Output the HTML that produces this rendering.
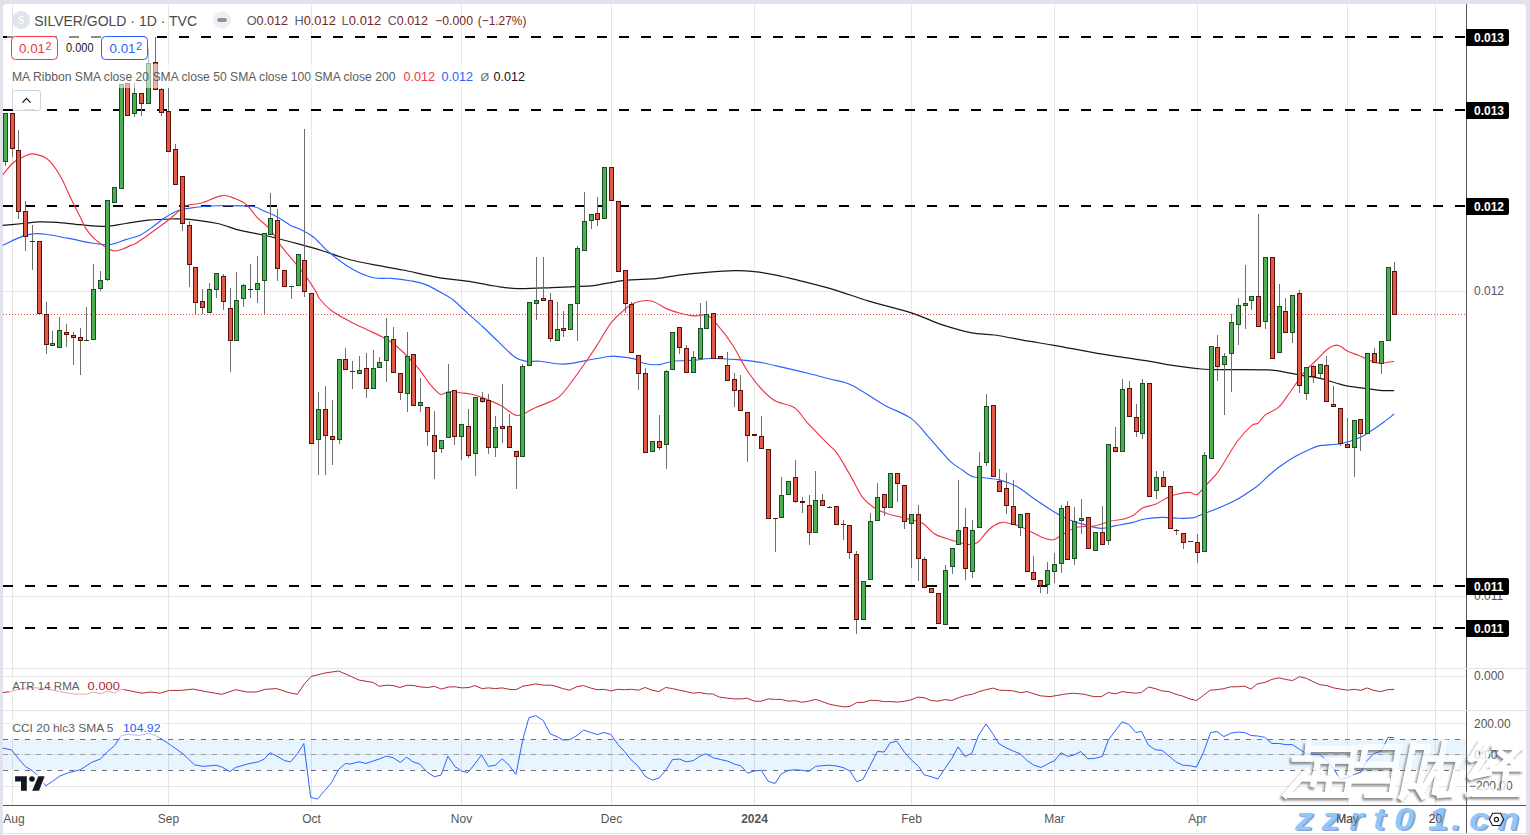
<!DOCTYPE html><html><head><meta charset="utf-8"><style>html,body{margin:0;padding:0;background:#e0e3eb;}svg{display:block}text{font-family:"Liberation Sans",sans-serif;}</style></head><body><svg width="1530" height="835" viewBox="0 0 1530 835"><rect x="0" y="0" width="1530" height="835" fill="#e0e3eb"/><path d="M3,8 Q3,4 7,4 L1522,4 Q1526,4 1526,8 L1526,833 L3,833 Z" fill="#ffffff"/><rect x="3" y="834" width="1523" height="1" fill="#fdfdfe"/><g shape-rendering="crispEdges"><rect x="12" y="4" width="1" height="801" fill="#e6e6e6"/><rect x="168" y="4" width="1" height="801" fill="#e6e6e6"/><rect x="311" y="4" width="1" height="801" fill="#e6e6e6"/><rect x="461" y="4" width="1" height="801" fill="#e6e6e6"/><rect x="611" y="4" width="1" height="801" fill="#e6e6e6"/><rect x="754" y="4" width="1" height="801" fill="#e6e6e6"/><rect x="911" y="4" width="1" height="801" fill="#e6e6e6"/><rect x="1054" y="4" width="1" height="801" fill="#e6e6e6"/><rect x="1197" y="4" width="1" height="801" fill="#e6e6e6"/><rect x="1347" y="4" width="1" height="801" fill="#e6e6e6"/><rect x="1435" y="4" width="1" height="801" fill="#e6e6e6"/><rect x="3" y="291" width="1463" height="1" fill="#e6e6e6"/><rect x="3" y="596" width="1463" height="1" fill="#e6e6e6"/><rect x="3" y="676" width="1463" height="1" fill="#e6e6e6"/><rect x="3" y="723" width="1463" height="1" fill="#e6e6e6"/><rect x="3" y="786" width="1463" height="1" fill="#e6e6e6"/></g><g shape-rendering="crispEdges"><rect x="3" y="668" width="1523" height="1" fill="#e0e3eb"/><rect x="3" y="710" width="1523" height="1" fill="#e0e3eb"/></g><rect x="3" y="739" width="1463" height="31" fill="#2196f3" fill-opacity="0.1" shape-rendering="crispEdges"/><rect x="3" y="754" width="1463" height="1" fill="#d8dde3" shape-rendering="crispEdges"/><line x1="3" y1="739.5" x2="1466" y2="739.5" stroke="#6f727c" stroke-width="1" stroke-dasharray="5,6" shape-rendering="crispEdges"/><line x1="3" y1="754.5" x2="1466" y2="754.5" stroke="#9a9da6" stroke-width="1" stroke-dasharray="5,6" shape-rendering="crispEdges"/><line x1="3" y1="770.5" x2="1466" y2="770.5" stroke="#6f727c" stroke-width="1" stroke-dasharray="5,6" shape-rendering="crispEdges"/><line x1="3" y1="37" x2="1466" y2="37" stroke="#000" stroke-width="2" stroke-dasharray="10,12" shape-rendering="crispEdges"/><line x1="3" y1="110" x2="1466" y2="110" stroke="#000" stroke-width="2" stroke-dasharray="10,12" shape-rendering="crispEdges"/><line x1="3" y1="206" x2="1466" y2="206" stroke="#000" stroke-width="2" stroke-dasharray="10,12" shape-rendering="crispEdges"/><line x1="3" y1="586" x2="1466" y2="586" stroke="#000" stroke-width="2" stroke-dasharray="10,12" shape-rendering="crispEdges"/><line x1="3" y1="628" x2="1466" y2="628" stroke="#000" stroke-width="2" stroke-dasharray="10,12" shape-rendering="crispEdges"/><line x1="3" y1="314.5" x2="1466" y2="314.5" stroke="#e0503c" stroke-width="1" stroke-dasharray="1,2" shape-rendering="crispEdges"/><path d="M2.7,225.4C6.1,225.1 16.9,224.1 22.9,223.5C28.9,222.9 33.2,222.1 38.9,221.9C44.6,221.7 50.3,221.9 57.2,222.4C64.1,222.9 72.1,224.0 80.1,224.7C88.1,225.3 97.6,226.5 105.2,226.3C112.8,226.1 118.5,224.5 125.8,223.5C133.0,222.5 141.1,220.8 148.7,220.1C156.3,219.3 164.7,219.1 171.6,219.0C178.5,218.9 182.3,218.7 189.9,219.4C197.5,220.2 208.9,221.7 217.3,223.5C225.7,225.3 232.6,228.5 240.2,230.4C247.8,232.3 253.6,232.8 263.1,235.0C272.6,237.2 287.4,241.0 297.4,243.7C307.4,246.4 314.8,248.5 322.9,251.0C331.0,253.5 337.4,256.2 345.8,258.5C354.2,260.8 363.7,262.8 373.2,264.7C382.7,266.6 392.3,267.9 403.0,270.0C413.7,272.1 425.9,275.3 437.3,277.3C448.7,279.3 462.1,280.4 471.6,281.8C481.1,283.2 486.9,284.9 494.5,286.0C502.1,287.1 507.8,288.4 517.3,288.7C526.8,289.0 542.2,288.0 551.7,287.6C561.2,287.2 567.4,286.9 574.5,286.6C581.6,286.3 586.0,286.7 594.3,285.6C602.6,284.6 613.8,281.5 624.1,280.3C634.4,279.1 647.0,279.6 656.1,278.7C665.2,277.8 670.6,276.2 679.0,275.1C687.4,274.0 697.2,273.0 706.4,272.3C715.5,271.6 725.9,270.8 733.9,270.7C741.9,270.6 747.3,270.8 754.5,271.6C761.7,272.4 769.7,273.8 777.3,275.3C784.9,276.8 790.7,278.4 800.2,280.8C809.7,283.2 823.1,286.5 834.5,289.9C845.9,293.3 855.9,297.2 868.8,301.1C881.7,305.0 899.9,309.2 912.1,313.1C924.3,317.0 931.9,321.4 941.8,324.7C951.7,328.0 962.8,331.1 971.6,332.8C980.4,334.5 985.0,333.6 994.5,335.0C1004.0,336.4 1018.9,339.5 1028.8,341.2C1038.7,342.9 1042.6,343.3 1054.0,345.3C1065.4,347.3 1085.2,351.2 1097.4,353.3C1109.6,355.4 1118.4,356.6 1127.2,357.9C1136.0,359.2 1143.3,360.2 1150.0,361.3C1156.7,362.4 1158.7,363.3 1167.3,364.6C1175.9,365.9 1192.2,368.2 1201.7,369.0C1211.2,369.8 1213.6,369.5 1224.5,369.6C1235.4,369.8 1257.9,369.6 1267.3,369.9C1276.7,370.2 1275.7,370.4 1281.0,371.3C1286.3,372.2 1292.8,373.8 1299.3,375.0C1305.8,376.2 1313.8,377.1 1319.9,378.4C1326.0,379.7 1331.0,381.7 1335.9,383.0C1340.9,384.3 1344.6,385.5 1349.6,386.4C1354.5,387.3 1360.6,387.6 1365.6,388.3C1370.6,389.0 1374.6,389.9 1379.4,390.3C1384.2,390.7 1391.7,390.5 1394.2,390.5" fill="none" stroke="#181818" stroke-width="1.25" stroke-linejoin="round"/><path d="M2.7,245.3C6.1,243.8 17.6,238.0 22.9,236.1C28.2,234.2 30.5,234.1 34.3,233.8C38.1,233.5 40.1,233.5 45.8,234.3C51.5,235.1 61.0,237.0 68.6,238.4C76.2,239.8 84.6,242.0 91.5,243.0C98.4,244.0 104.1,245.2 109.8,244.6C115.5,244.0 120.8,241.1 125.8,239.6C130.8,238.1 135.4,237.3 139.6,235.4C143.8,233.5 146.8,231.0 151.0,228.1C155.2,225.2 160.1,220.7 164.7,217.8C169.3,214.9 173.4,212.2 178.4,210.5C183.4,208.8 188.0,208.3 194.5,207.5C201.0,206.7 207.8,205.9 217.3,205.7C226.8,205.5 244.1,205.6 251.7,206.4C259.3,207.2 258.9,208.8 263.1,210.5C267.3,212.2 272.2,214.2 276.8,216.7C281.4,219.2 286.7,223.3 290.6,225.4C294.5,227.5 296.1,227.2 300.0,229.2C303.9,231.2 308.8,233.3 313.7,237.2C318.6,241.1 323.2,247.5 329.7,252.8C336.2,258.2 345.4,265.2 352.6,269.3C359.9,273.4 366.7,276.2 373.2,277.7C379.7,279.2 385.4,277.9 391.5,278.4C397.6,278.9 404.1,279.7 409.8,280.7C415.5,281.7 419.7,282.1 425.8,284.6C431.9,287.1 441.8,293.0 446.4,295.6C451.0,298.2 449.9,297.2 453.3,300.0C456.7,302.8 462.1,308.1 467.0,312.6C471.9,317.1 477.7,322.1 483.0,327.0C488.3,331.9 493.7,337.3 499.0,342.3C504.3,347.3 510.4,354.0 515.0,357.2C519.6,360.4 522.3,360.6 526.5,361.3C530.7,362.0 534.1,360.8 540.2,361.3C546.3,361.8 555.5,364.2 563.1,364.1C570.7,364.0 578.4,361.9 586.0,360.6C593.6,359.3 603.5,357.2 608.9,356.5C614.3,355.8 614.1,356.2 618.3,356.6C622.5,357.0 629.9,357.8 634.3,358.9C638.7,360.0 640.4,362.6 644.6,363.5C648.8,364.4 654.7,365.0 659.5,364.6C664.3,364.2 667.1,361.9 673.2,361.2C679.3,360.4 690.0,360.6 696.1,360.1C702.2,359.7 702.9,358.6 709.8,358.5C716.7,358.4 728.9,359.0 737.3,359.6C745.7,360.2 752.5,361.1 760.1,362.4C767.7,363.7 775.4,365.7 783.0,367.4C790.6,369.1 798.3,370.8 805.9,372.7C813.5,374.6 821.2,376.7 828.8,378.8C836.4,380.9 842.6,380.9 851.7,385.2C860.9,389.5 873.8,399.2 883.7,404.7C893.6,410.2 903.5,412.9 911.1,418.4C918.7,423.9 924.6,432.6 929.4,437.9C934.2,443.2 936.3,445.9 940.0,450.0C943.7,454.1 948.1,459.4 951.7,462.6C955.3,465.8 957.9,467.0 961.4,469.4C964.9,471.8 969.1,475.4 972.9,476.8C976.7,478.2 979.7,477.2 984.3,477.8C988.9,478.4 994.9,478.7 1000.3,480.1C1005.7,481.6 1010.8,483.2 1016.8,486.5C1022.8,489.8 1029.8,495.8 1036.0,500.0C1042.2,504.2 1048.8,508.7 1054.3,512.0C1059.8,515.3 1064.0,517.6 1069.2,519.7C1074.4,521.9 1079.9,523.5 1085.2,524.9C1090.5,526.3 1096.1,528.2 1101.0,528.4C1105.9,528.6 1109.4,526.9 1114.7,525.9C1120.0,524.9 1128.0,523.5 1133.0,522.4C1138.0,521.2 1139.5,519.8 1144.5,519.0C1149.5,518.2 1157.1,517.5 1162.8,517.4C1168.5,517.3 1173.8,518.2 1178.8,518.3C1183.8,518.4 1189.2,518.3 1192.5,517.9C1195.8,517.5 1195.7,516.9 1198.6,515.8C1201.5,514.7 1204.4,513.7 1210.1,511.3C1215.8,508.9 1225.4,505.6 1233.0,501.6C1240.6,497.6 1250.1,491.3 1255.8,487.2C1261.5,483.1 1263.5,480.2 1267.3,476.9C1271.1,473.6 1274.1,470.6 1278.7,467.3C1283.3,464.0 1289.8,459.7 1294.7,456.8C1299.7,453.9 1304.2,451.8 1308.4,449.9C1312.6,448.0 1314.6,446.6 1319.9,445.6C1325.2,444.6 1334.0,445.1 1340.5,443.8C1347.0,442.5 1353.5,440.3 1358.8,438.0C1364.1,435.7 1368.3,432.7 1372.5,430.0C1376.7,427.3 1380.3,424.7 1383.9,422.0C1387.5,419.3 1392.5,415.3 1394.2,414.0" fill="none" stroke="#2962ff" stroke-width="1.15" stroke-linejoin="round"/><path d="M2.9,174.5C4.6,172.6 9.6,165.9 12.9,163.0C16.2,160.1 19.9,158.5 23.0,157.0C26.1,155.5 29.0,154.2 31.6,153.9C34.2,153.6 36.4,154.4 38.8,155.1C41.2,155.8 43.6,156.3 46.0,158.0C48.4,159.7 50.6,161.7 53.2,165.2C55.8,168.7 58.7,173.0 61.8,178.8C64.9,184.7 68.7,193.8 71.8,200.3C74.9,206.8 78.1,212.8 80.5,217.6C82.9,222.4 83.8,225.5 86.2,229.1C88.6,232.7 91.9,236.4 94.8,239.2C97.7,241.9 100.3,243.6 103.4,245.6C106.5,247.6 110.4,250.3 113.5,250.9C116.6,251.5 119.4,250.1 122.2,249.2C125.0,248.3 127.7,246.7 130.2,245.6C132.7,244.5 132.3,245.7 137.3,242.5C142.3,239.3 154.0,230.8 160.1,226.3C166.2,221.8 169.7,218.9 173.9,215.5C178.1,212.1 180.7,208.0 185.3,205.9C189.9,203.8 195.2,204.7 201.3,203.0C207.4,201.3 216.2,196.3 221.9,195.6C227.6,194.9 231.4,197.2 235.6,198.8C239.8,200.4 243.5,202.0 247.1,205.2C250.7,208.4 253.6,213.8 257.4,217.8C261.2,221.8 266.0,224.5 270.0,229.3C274.0,234.1 277.6,241.3 281.4,246.4C285.2,251.5 288.6,255.0 292.8,260.1C297.0,265.2 302.8,272.1 306.6,277.3C310.4,282.5 313.4,287.6 315.7,291.4C318.0,295.2 317.9,296.7 320.6,300.0C323.3,303.3 327.1,307.4 332.0,311.0C336.9,314.6 344.6,318.6 350.3,321.7C356.0,324.8 361.0,326.7 366.3,329.3C371.6,331.9 377.4,334.4 382.4,337.1C387.4,339.9 390.4,340.9 396.1,345.8C401.8,350.7 411.0,359.8 416.7,366.3C422.4,372.8 426.4,379.9 430.4,384.6C434.4,389.3 437.6,393.2 440.7,394.3C443.8,395.4 445.5,391.8 448.7,391.5C451.9,391.2 456.3,392.2 460.1,392.7C463.9,393.2 467.8,393.4 471.6,394.3C475.4,395.2 478.1,396.0 483.0,397.9C487.9,399.8 495.6,402.8 501.3,405.7C507.0,408.6 511.6,415.2 517.3,415.5C523.0,415.8 528.7,410.6 535.6,407.5C542.5,404.4 552.0,402.1 558.5,397.2C565.0,392.2 569.5,384.3 574.5,377.8C579.5,371.3 584.5,363.8 588.3,358.3C592.1,352.8 593.6,350.5 597.4,344.6C601.2,338.7 606.5,328.8 611.1,322.9C615.7,317.0 620.7,312.6 624.9,309.2C629.1,305.8 631.9,303.6 636.3,302.2C640.7,300.8 646.5,299.9 651.5,301.0C656.5,302.1 661.5,306.6 666.3,308.6C671.1,310.6 675.5,312.0 680.1,313.2C684.7,314.4 689.2,315.5 693.8,315.9C698.4,316.3 703.3,313.7 707.5,315.5C711.7,317.3 714.8,321.9 719.0,326.9C723.2,331.8 728.1,338.1 732.7,345.2C737.3,352.2 741.8,362.1 746.4,369.2C751.0,376.2 755.3,382.2 760.1,387.5C764.9,392.8 769.3,397.4 775.0,400.8C780.7,404.2 789.0,403.9 794.5,407.7C800.0,411.5 802.5,417.5 808.2,423.7C813.9,429.9 823.9,439.7 828.8,444.7C833.6,449.7 833.6,448.4 837.3,453.7C841.0,459.0 846.8,469.4 851.0,476.6C855.2,483.9 858.6,492.1 862.4,497.2C866.2,502.3 869.7,504.8 873.9,507.5C878.1,510.2 883.0,512.1 887.6,513.7C892.2,515.3 897.1,516.2 901.3,517.3C905.5,518.4 909.2,519.1 912.8,520.1C916.4,521.1 919.4,521.2 923.0,523.5C926.6,525.8 930.6,531.3 934.4,533.8C938.2,536.3 942.0,537.0 945.8,538.3C949.6,539.6 953.5,540.8 957.3,541.8C961.1,542.8 965.3,544.4 968.7,544.5C972.1,544.6 974.5,544.8 977.9,542.2C981.3,539.7 985.5,532.5 989.3,529.2C993.1,525.9 997.0,523.6 1000.5,522.6C1004.0,521.6 1006.7,522.9 1010.0,523.5C1013.3,524.1 1016.9,525.2 1020.3,526.5C1023.7,527.8 1026.9,529.7 1030.5,531.5C1034.1,533.3 1038.5,535.8 1041.9,537.2C1045.3,538.6 1048.8,539.6 1051.1,539.9C1053.4,540.2 1053.3,540.1 1055.6,539.0C1057.8,537.9 1061.0,535.5 1064.6,533.5C1068.2,531.5 1072.0,528.5 1077.0,527.3C1082.0,526.0 1088.8,527.0 1094.3,526.0C1099.8,525.0 1105.2,522.5 1110.1,521.3C1115.0,520.1 1120.1,520.0 1123.9,519.0C1127.7,518.0 1129.8,517.5 1133.0,515.6C1136.2,513.7 1139.2,509.7 1143.0,507.8C1146.8,505.9 1151.5,505.9 1155.5,504.2C1159.5,502.5 1163.5,499.5 1166.9,497.9C1170.3,496.3 1172.2,495.4 1176.0,494.5C1179.8,493.6 1186.0,492.4 1189.5,492.4C1193.0,492.4 1194.2,495.8 1196.9,494.6C1199.6,493.4 1202.4,489.0 1205.8,485.4C1209.2,481.8 1213.8,477.3 1217.3,472.8C1220.8,468.3 1223.1,463.9 1226.5,458.5C1229.9,453.1 1233.7,446.0 1237.9,440.5C1242.1,435.0 1248.2,428.5 1251.6,425.6C1255.0,422.7 1255.9,424.9 1258.1,423.2C1260.3,421.4 1261.6,417.8 1265.0,415.1C1268.4,412.4 1274.5,411.0 1278.7,407.1C1283.0,403.2 1286.3,397.2 1290.5,391.5C1294.7,385.8 1299.4,378.1 1303.9,372.7C1308.4,367.3 1313.8,362.8 1317.6,359.0C1321.4,355.2 1324.0,352.0 1326.7,349.8C1329.4,347.6 1331.5,346.4 1333.6,345.7C1335.7,345.0 1337.0,344.8 1339.3,345.7C1341.6,346.6 1344.0,349.4 1347.3,351.0C1350.5,352.6 1355.4,354.1 1358.8,355.5C1362.2,356.9 1365.2,358.2 1367.9,359.4C1370.6,360.5 1372.5,361.8 1374.8,362.4C1377.1,363.0 1378.5,363.3 1381.7,363.1C1384.9,362.9 1392.1,361.6 1394.2,361.3" fill="none" stroke="#f23645" stroke-width="1.15" stroke-linejoin="round"/><g shape-rendering="crispEdges"><rect x="5" y="162" width="1" height="4" fill="#6e6e6e"/><rect x="3" y="113" width="5" height="49" fill="#1b4d24"/><rect x="4" y="114" width="3" height="47" fill="#4caf50"/><rect x="12" y="149" width="1" height="8" fill="#6e6e6e"/><rect x="10" y="113" width="5" height="36" fill="#5b100b"/><rect x="11" y="114" width="3" height="34" fill="#e05a45"/><rect x="18" y="130" width="1" height="20" fill="#6e6e6e"/><rect x="18" y="212" width="1" height="7" fill="#6e6e6e"/><rect x="16" y="150" width="5" height="62" fill="#5b100b"/><rect x="17" y="151" width="3" height="60" fill="#e05a45"/><rect x="25" y="201" width="1" height="10" fill="#6e6e6e"/><rect x="25" y="237" width="1" height="14" fill="#6e6e6e"/><rect x="23" y="211" width="5" height="26" fill="#5b100b"/><rect x="24" y="212" width="3" height="24" fill="#e05a45"/><rect x="32" y="225" width="1" height="16" fill="#6e6e6e"/><rect x="32" y="242" width="1" height="28" fill="#6e6e6e"/><rect x="30" y="241" width="5" height="1" fill="#5b100b"/><rect x="37" y="241" width="5" height="73" fill="#5b100b"/><rect x="38" y="242" width="3" height="71" fill="#e05a45"/><rect x="46" y="302" width="1" height="12" fill="#6e6e6e"/><rect x="46" y="345" width="1" height="9" fill="#6e6e6e"/><rect x="44" y="314" width="5" height="31" fill="#5b100b"/><rect x="45" y="315" width="3" height="29" fill="#e05a45"/><rect x="52" y="331" width="1" height="12" fill="#6e6e6e"/><rect x="50" y="343" width="5" height="3" fill="#1b4d24"/><rect x="51" y="344" width="3" height="1" fill="#4caf50"/><rect x="59" y="317" width="1" height="13" fill="#6e6e6e"/><rect x="57" y="330" width="5" height="18" fill="#1b4d24"/><rect x="58" y="331" width="3" height="16" fill="#4caf50"/><rect x="66" y="324" width="1" height="8" fill="#6e6e6e"/><rect x="66" y="335" width="1" height="12" fill="#6e6e6e"/><rect x="64" y="332" width="5" height="3" fill="#5b100b"/><rect x="65" y="333" width="3" height="1" fill="#e05a45"/><rect x="73" y="332" width="1" height="3" fill="#6e6e6e"/><rect x="73" y="338" width="1" height="27" fill="#6e6e6e"/><rect x="71" y="335" width="5" height="3" fill="#5b100b"/><rect x="72" y="336" width="3" height="1" fill="#e05a45"/><rect x="80" y="328" width="1" height="9" fill="#6e6e6e"/><rect x="80" y="341" width="1" height="34" fill="#6e6e6e"/><rect x="78" y="337" width="5" height="4" fill="#5b100b"/><rect x="79" y="338" width="3" height="2" fill="#e05a45"/><rect x="86" y="307" width="1" height="33" fill="#6e6e6e"/><rect x="84" y="340" width="5" height="1" fill="#1b4d24"/><rect x="93" y="264" width="1" height="25" fill="#6e6e6e"/><rect x="91" y="289" width="5" height="51" fill="#1b4d24"/><rect x="92" y="290" width="3" height="49" fill="#4caf50"/><rect x="100" y="271" width="1" height="9" fill="#6e6e6e"/><rect x="100" y="289" width="1" height="2" fill="#6e6e6e"/><rect x="98" y="280" width="5" height="9" fill="#1b4d24"/><rect x="99" y="281" width="3" height="7" fill="#4caf50"/><rect x="107" y="280" width="1" height="1" fill="#6e6e6e"/><rect x="105" y="200" width="5" height="80" fill="#1b4d24"/><rect x="106" y="201" width="3" height="78" fill="#4caf50"/><rect x="112" y="187" width="5" height="16" fill="#1b4d24"/><rect x="113" y="188" width="3" height="14" fill="#4caf50"/><rect x="119" y="84" width="5" height="105" fill="#1b4d24"/><rect x="120" y="85" width="3" height="103" fill="#4caf50"/><rect x="125" y="83" width="5" height="33" fill="#5b100b"/><rect x="126" y="84" width="3" height="31" fill="#e05a45"/><rect x="134" y="83" width="1" height="10" fill="#6e6e6e"/><rect x="134" y="114" width="1" height="3" fill="#6e6e6e"/><rect x="132" y="93" width="5" height="21" fill="#1b4d24"/><rect x="133" y="94" width="3" height="19" fill="#4caf50"/><rect x="141" y="104" width="1" height="12" fill="#6e6e6e"/><rect x="139" y="93" width="5" height="11" fill="#5b100b"/><rect x="140" y="94" width="3" height="9" fill="#e05a45"/><rect x="148" y="49" width="1" height="14" fill="#6e6e6e"/><rect x="146" y="63" width="5" height="41" fill="#1b4d24"/><rect x="147" y="64" width="3" height="39" fill="#4caf50"/><rect x="155" y="37" width="1" height="25" fill="#6e6e6e"/><rect x="153" y="62" width="5" height="28" fill="#5b100b"/><rect x="154" y="63" width="3" height="26" fill="#e05a45"/><rect x="161" y="88" width="1" height="1" fill="#6e6e6e"/><rect x="161" y="113" width="1" height="3" fill="#6e6e6e"/><rect x="159" y="89" width="5" height="24" fill="#5b100b"/><rect x="160" y="90" width="3" height="22" fill="#e05a45"/><rect x="168" y="88" width="1" height="23" fill="#6e6e6e"/><rect x="166" y="111" width="5" height="41" fill="#5b100b"/><rect x="167" y="112" width="3" height="39" fill="#e05a45"/><rect x="175" y="144" width="1" height="5" fill="#6e6e6e"/><rect x="173" y="149" width="5" height="36" fill="#5b100b"/><rect x="174" y="150" width="3" height="34" fill="#e05a45"/><rect x="182" y="224" width="1" height="7" fill="#6e6e6e"/><rect x="180" y="176" width="5" height="48" fill="#5b100b"/><rect x="181" y="177" width="3" height="46" fill="#e05a45"/><rect x="189" y="221" width="1" height="4" fill="#6e6e6e"/><rect x="189" y="265" width="1" height="22" fill="#6e6e6e"/><rect x="187" y="225" width="5" height="40" fill="#5b100b"/><rect x="188" y="226" width="3" height="38" fill="#e05a45"/><rect x="195" y="303" width="1" height="11" fill="#6e6e6e"/><rect x="193" y="267" width="5" height="36" fill="#5b100b"/><rect x="194" y="268" width="3" height="34" fill="#e05a45"/><rect x="202" y="289" width="1" height="12" fill="#6e6e6e"/><rect x="202" y="308" width="1" height="6" fill="#6e6e6e"/><rect x="200" y="301" width="5" height="7" fill="#5b100b"/><rect x="201" y="302" width="3" height="5" fill="#e05a45"/><rect x="209" y="283" width="1" height="6" fill="#6e6e6e"/><rect x="207" y="289" width="5" height="24" fill="#1b4d24"/><rect x="208" y="290" width="3" height="22" fill="#4caf50"/><rect x="216" y="290" width="1" height="8" fill="#6e6e6e"/><rect x="214" y="273" width="5" height="17" fill="#1b4d24"/><rect x="215" y="274" width="3" height="15" fill="#4caf50"/><rect x="223" y="274" width="1" height="2" fill="#6e6e6e"/><rect x="223" y="302" width="1" height="8" fill="#6e6e6e"/><rect x="221" y="276" width="5" height="26" fill="#5b100b"/><rect x="222" y="277" width="3" height="24" fill="#e05a45"/><rect x="230" y="288" width="1" height="20" fill="#6e6e6e"/><rect x="230" y="341" width="1" height="31" fill="#6e6e6e"/><rect x="228" y="308" width="5" height="33" fill="#5b100b"/><rect x="229" y="309" width="3" height="31" fill="#e05a45"/><rect x="236" y="272" width="1" height="28" fill="#6e6e6e"/><rect x="234" y="300" width="5" height="41" fill="#1b4d24"/><rect x="235" y="301" width="3" height="39" fill="#4caf50"/><rect x="243" y="284" width="1" height="1" fill="#6e6e6e"/><rect x="243" y="299" width="1" height="8" fill="#6e6e6e"/><rect x="241" y="285" width="5" height="14" fill="#1b4d24"/><rect x="242" y="286" width="3" height="12" fill="#4caf50"/><rect x="250" y="264" width="1" height="25" fill="#6e6e6e"/><rect x="250" y="290" width="1" height="8" fill="#6e6e6e"/><rect x="248" y="289" width="5" height="1" fill="#5b100b"/><rect x="257" y="256" width="1" height="27" fill="#6e6e6e"/><rect x="257" y="290" width="1" height="13" fill="#6e6e6e"/><rect x="255" y="283" width="5" height="7" fill="#1b4d24"/><rect x="256" y="284" width="3" height="5" fill="#4caf50"/><rect x="264" y="281" width="1" height="33" fill="#6e6e6e"/><rect x="262" y="233" width="5" height="48" fill="#1b4d24"/><rect x="263" y="234" width="3" height="46" fill="#4caf50"/><rect x="270" y="193" width="1" height="25" fill="#6e6e6e"/><rect x="268" y="218" width="5" height="17" fill="#1b4d24"/><rect x="269" y="219" width="3" height="15" fill="#4caf50"/><rect x="277" y="209" width="1" height="11" fill="#6e6e6e"/><rect x="277" y="269" width="1" height="12" fill="#6e6e6e"/><rect x="275" y="220" width="5" height="49" fill="#5b100b"/><rect x="276" y="221" width="3" height="47" fill="#e05a45"/><rect x="282" y="270" width="5" height="17" fill="#5b100b"/><rect x="283" y="271" width="3" height="15" fill="#e05a45"/><rect x="291" y="287" width="1" height="12" fill="#6e6e6e"/><rect x="289" y="286" width="5" height="1" fill="#1b4d24"/><rect x="296" y="254" width="5" height="32" fill="#1b4d24"/><rect x="297" y="255" width="3" height="30" fill="#4caf50"/><rect x="304" y="129" width="1" height="131" fill="#6e6e6e"/><rect x="304" y="292" width="1" height="5" fill="#6e6e6e"/><rect x="302" y="260" width="5" height="32" fill="#5b100b"/><rect x="303" y="261" width="3" height="30" fill="#e05a45"/><rect x="309" y="293" width="5" height="151" fill="#5b100b"/><rect x="310" y="294" width="3" height="149" fill="#e05a45"/><rect x="318" y="392" width="1" height="17" fill="#6e6e6e"/><rect x="318" y="440" width="1" height="35" fill="#6e6e6e"/><rect x="316" y="409" width="5" height="31" fill="#1b4d24"/><rect x="317" y="410" width="3" height="29" fill="#4caf50"/><rect x="325" y="386" width="1" height="23" fill="#6e6e6e"/><rect x="325" y="436" width="1" height="39" fill="#6e6e6e"/><rect x="323" y="409" width="5" height="27" fill="#5b100b"/><rect x="324" y="410" width="3" height="25" fill="#e05a45"/><rect x="332" y="400" width="1" height="36" fill="#6e6e6e"/><rect x="332" y="440" width="1" height="25" fill="#6e6e6e"/><rect x="330" y="436" width="5" height="4" fill="#5b100b"/><rect x="331" y="437" width="3" height="2" fill="#e05a45"/><rect x="339" y="440" width="1" height="4" fill="#6e6e6e"/><rect x="337" y="359" width="5" height="81" fill="#1b4d24"/><rect x="338" y="360" width="3" height="79" fill="#4caf50"/><rect x="345" y="348" width="1" height="11" fill="#6e6e6e"/><rect x="343" y="359" width="5" height="11" fill="#5b100b"/><rect x="344" y="360" width="3" height="9" fill="#e05a45"/><rect x="352" y="361" width="1" height="10" fill="#6e6e6e"/><rect x="352" y="372" width="1" height="17" fill="#6e6e6e"/><rect x="350" y="371" width="5" height="1" fill="#5b100b"/><rect x="359" y="356" width="1" height="14" fill="#6e6e6e"/><rect x="357" y="370" width="5" height="4" fill="#1b4d24"/><rect x="358" y="371" width="3" height="2" fill="#4caf50"/><rect x="366" y="353" width="1" height="15" fill="#6e6e6e"/><rect x="366" y="389" width="1" height="9" fill="#6e6e6e"/><rect x="364" y="368" width="5" height="21" fill="#5b100b"/><rect x="365" y="369" width="3" height="19" fill="#e05a45"/><rect x="373" y="350" width="1" height="18" fill="#6e6e6e"/><rect x="371" y="368" width="5" height="21" fill="#1b4d24"/><rect x="372" y="369" width="3" height="19" fill="#4caf50"/><rect x="379" y="357" width="1" height="5" fill="#6e6e6e"/><rect x="377" y="362" width="5" height="6" fill="#1b4d24"/><rect x="378" y="363" width="3" height="4" fill="#4caf50"/><rect x="386" y="318" width="1" height="18" fill="#6e6e6e"/><rect x="386" y="361" width="1" height="21" fill="#6e6e6e"/><rect x="384" y="336" width="5" height="25" fill="#1b4d24"/><rect x="385" y="337" width="3" height="23" fill="#4caf50"/><rect x="393" y="327" width="1" height="12" fill="#6e6e6e"/><rect x="391" y="339" width="5" height="34" fill="#5b100b"/><rect x="392" y="340" width="3" height="32" fill="#e05a45"/><rect x="400" y="393" width="1" height="7" fill="#6e6e6e"/><rect x="398" y="373" width="5" height="20" fill="#5b100b"/><rect x="399" y="374" width="3" height="18" fill="#e05a45"/><rect x="407" y="332" width="1" height="24" fill="#6e6e6e"/><rect x="407" y="394" width="1" height="18" fill="#6e6e6e"/><rect x="405" y="356" width="5" height="38" fill="#1b4d24"/><rect x="406" y="357" width="3" height="36" fill="#4caf50"/><rect x="411" y="354" width="5" height="52" fill="#5b100b"/><rect x="412" y="355" width="3" height="50" fill="#e05a45"/><rect x="420" y="378" width="1" height="24" fill="#6e6e6e"/><rect x="420" y="406" width="1" height="6" fill="#6e6e6e"/><rect x="418" y="402" width="5" height="4" fill="#1b4d24"/><rect x="419" y="403" width="3" height="2" fill="#4caf50"/><rect x="427" y="432" width="1" height="14" fill="#6e6e6e"/><rect x="425" y="407" width="5" height="25" fill="#5b100b"/><rect x="426" y="408" width="3" height="23" fill="#e05a45"/><rect x="434" y="411" width="1" height="24" fill="#6e6e6e"/><rect x="434" y="452" width="1" height="27" fill="#6e6e6e"/><rect x="432" y="435" width="5" height="17" fill="#5b100b"/><rect x="433" y="436" width="3" height="15" fill="#e05a45"/><rect x="441" y="449" width="1" height="4" fill="#6e6e6e"/><rect x="439" y="440" width="5" height="9" fill="#1b4d24"/><rect x="440" y="441" width="3" height="7" fill="#4caf50"/><rect x="448" y="364" width="1" height="28" fill="#6e6e6e"/><rect x="446" y="392" width="5" height="46" fill="#1b4d24"/><rect x="447" y="393" width="3" height="44" fill="#4caf50"/><rect x="454" y="437" width="1" height="8" fill="#6e6e6e"/><rect x="452" y="390" width="5" height="47" fill="#5b100b"/><rect x="453" y="391" width="3" height="45" fill="#e05a45"/><rect x="461" y="437" width="1" height="23" fill="#6e6e6e"/><rect x="459" y="424" width="5" height="13" fill="#1b4d24"/><rect x="460" y="425" width="3" height="11" fill="#4caf50"/><rect x="468" y="409" width="1" height="17" fill="#6e6e6e"/><rect x="468" y="456" width="1" height="2" fill="#6e6e6e"/><rect x="466" y="426" width="5" height="30" fill="#5b100b"/><rect x="467" y="427" width="3" height="28" fill="#e05a45"/><rect x="475" y="454" width="1" height="22" fill="#6e6e6e"/><rect x="473" y="397" width="5" height="57" fill="#1b4d24"/><rect x="474" y="398" width="3" height="55" fill="#4caf50"/><rect x="482" y="392" width="1" height="6" fill="#6e6e6e"/><rect x="482" y="402" width="1" height="1" fill="#6e6e6e"/><rect x="480" y="398" width="5" height="4" fill="#5b100b"/><rect x="481" y="399" width="3" height="2" fill="#e05a45"/><rect x="488" y="394" width="1" height="6" fill="#6e6e6e"/><rect x="488" y="448" width="1" height="6" fill="#6e6e6e"/><rect x="486" y="400" width="5" height="48" fill="#5b100b"/><rect x="487" y="401" width="3" height="46" fill="#e05a45"/><rect x="495" y="416" width="1" height="11" fill="#6e6e6e"/><rect x="495" y="448" width="1" height="9" fill="#6e6e6e"/><rect x="493" y="427" width="5" height="21" fill="#1b4d24"/><rect x="494" y="428" width="3" height="19" fill="#4caf50"/><rect x="502" y="384" width="1" height="42" fill="#6e6e6e"/><rect x="502" y="429" width="1" height="14" fill="#6e6e6e"/><rect x="500" y="426" width="5" height="3" fill="#5b100b"/><rect x="501" y="427" width="3" height="1" fill="#e05a45"/><rect x="509" y="414" width="1" height="12" fill="#6e6e6e"/><rect x="507" y="426" width="5" height="22" fill="#5b100b"/><rect x="508" y="427" width="3" height="20" fill="#e05a45"/><rect x="516" y="457" width="1" height="32" fill="#6e6e6e"/><rect x="514" y="451" width="5" height="6" fill="#5b100b"/><rect x="515" y="452" width="3" height="4" fill="#e05a45"/><rect x="522" y="364" width="1" height="2" fill="#6e6e6e"/><rect x="520" y="366" width="5" height="91" fill="#1b4d24"/><rect x="521" y="367" width="3" height="89" fill="#4caf50"/><rect x="527" y="302" width="5" height="64" fill="#1b4d24"/><rect x="528" y="303" width="3" height="62" fill="#4caf50"/><rect x="536" y="257" width="1" height="43" fill="#6e6e6e"/><rect x="536" y="304" width="1" height="16" fill="#6e6e6e"/><rect x="534" y="300" width="5" height="4" fill="#1b4d24"/><rect x="535" y="301" width="3" height="2" fill="#4caf50"/><rect x="543" y="257" width="1" height="41" fill="#6e6e6e"/><rect x="541" y="298" width="5" height="3" fill="#5b100b"/><rect x="542" y="299" width="3" height="1" fill="#e05a45"/><rect x="550" y="293" width="1" height="7" fill="#6e6e6e"/><rect x="550" y="339" width="1" height="3" fill="#6e6e6e"/><rect x="548" y="300" width="5" height="39" fill="#5b100b"/><rect x="549" y="301" width="3" height="37" fill="#e05a45"/><rect x="557" y="302" width="1" height="27" fill="#6e6e6e"/><rect x="555" y="329" width="5" height="12" fill="#1b4d24"/><rect x="556" y="330" width="3" height="10" fill="#4caf50"/><rect x="563" y="311" width="1" height="17" fill="#6e6e6e"/><rect x="563" y="331" width="1" height="6" fill="#6e6e6e"/><rect x="561" y="328" width="5" height="3" fill="#5b100b"/><rect x="562" y="329" width="3" height="1" fill="#e05a45"/><rect x="568" y="304" width="5" height="26" fill="#1b4d24"/><rect x="569" y="305" width="3" height="24" fill="#4caf50"/><rect x="577" y="246" width="1" height="2" fill="#6e6e6e"/><rect x="577" y="304" width="1" height="37" fill="#6e6e6e"/><rect x="575" y="248" width="5" height="56" fill="#1b4d24"/><rect x="576" y="249" width="3" height="54" fill="#4caf50"/><rect x="584" y="192" width="1" height="29" fill="#6e6e6e"/><rect x="582" y="221" width="5" height="30" fill="#1b4d24"/><rect x="583" y="222" width="3" height="28" fill="#4caf50"/><rect x="591" y="221" width="1" height="8" fill="#6e6e6e"/><rect x="589" y="214" width="5" height="7" fill="#1b4d24"/><rect x="590" y="215" width="3" height="5" fill="#4caf50"/><rect x="597" y="197" width="1" height="16" fill="#6e6e6e"/><rect x="597" y="220" width="1" height="6" fill="#6e6e6e"/><rect x="595" y="213" width="5" height="7" fill="#5b100b"/><rect x="596" y="214" width="3" height="5" fill="#e05a45"/><rect x="602" y="167" width="5" height="52" fill="#1b4d24"/><rect x="603" y="168" width="3" height="50" fill="#4caf50"/><rect x="609" y="167" width="5" height="34" fill="#5b100b"/><rect x="610" y="168" width="3" height="32" fill="#e05a45"/><rect x="616" y="201" width="5" height="71" fill="#5b100b"/><rect x="617" y="202" width="3" height="69" fill="#e05a45"/><rect x="625" y="304" width="1" height="9" fill="#6e6e6e"/><rect x="623" y="270" width="5" height="34" fill="#5b100b"/><rect x="624" y="271" width="3" height="32" fill="#e05a45"/><rect x="631" y="302" width="1" height="2" fill="#6e6e6e"/><rect x="629" y="304" width="5" height="49" fill="#5b100b"/><rect x="630" y="305" width="3" height="47" fill="#e05a45"/><rect x="638" y="374" width="1" height="16" fill="#6e6e6e"/><rect x="636" y="355" width="5" height="19" fill="#5b100b"/><rect x="637" y="356" width="3" height="17" fill="#e05a45"/><rect x="645" y="368" width="1" height="5" fill="#6e6e6e"/><rect x="643" y="373" width="5" height="80" fill="#5b100b"/><rect x="644" y="374" width="3" height="78" fill="#e05a45"/><rect x="650" y="441" width="5" height="11" fill="#1b4d24"/><rect x="651" y="442" width="3" height="9" fill="#4caf50"/><rect x="659" y="415" width="1" height="26" fill="#6e6e6e"/><rect x="659" y="448" width="1" height="2" fill="#6e6e6e"/><rect x="657" y="441" width="5" height="7" fill="#5b100b"/><rect x="658" y="442" width="3" height="5" fill="#e05a45"/><rect x="666" y="370" width="1" height="1" fill="#6e6e6e"/><rect x="666" y="445" width="1" height="24" fill="#6e6e6e"/><rect x="664" y="371" width="5" height="74" fill="#1b4d24"/><rect x="665" y="372" width="3" height="72" fill="#4caf50"/><rect x="670" y="332" width="5" height="38" fill="#1b4d24"/><rect x="671" y="333" width="3" height="36" fill="#4caf50"/><rect x="679" y="348" width="1" height="6" fill="#6e6e6e"/><rect x="677" y="327" width="5" height="21" fill="#5b100b"/><rect x="678" y="328" width="3" height="19" fill="#e05a45"/><rect x="686" y="345" width="1" height="3" fill="#6e6e6e"/><rect x="684" y="348" width="5" height="25" fill="#5b100b"/><rect x="685" y="349" width="3" height="23" fill="#e05a45"/><rect x="693" y="351" width="1" height="6" fill="#6e6e6e"/><rect x="691" y="357" width="5" height="16" fill="#1b4d24"/><rect x="692" y="358" width="3" height="14" fill="#4caf50"/><rect x="700" y="303" width="1" height="25" fill="#6e6e6e"/><rect x="698" y="328" width="5" height="31" fill="#1b4d24"/><rect x="699" y="329" width="3" height="29" fill="#4caf50"/><rect x="706" y="301" width="1" height="13" fill="#6e6e6e"/><rect x="704" y="314" width="5" height="15" fill="#1b4d24"/><rect x="705" y="315" width="3" height="13" fill="#4caf50"/><rect x="711" y="313" width="5" height="46" fill="#5b100b"/><rect x="712" y="314" width="3" height="44" fill="#e05a45"/><rect x="718" y="356" width="5" height="3" fill="#5b100b"/><rect x="719" y="357" width="3" height="1" fill="#e05a45"/><rect x="727" y="352" width="1" height="13" fill="#6e6e6e"/><rect x="725" y="365" width="5" height="16" fill="#5b100b"/><rect x="726" y="366" width="3" height="14" fill="#e05a45"/><rect x="734" y="373" width="1" height="6" fill="#6e6e6e"/><rect x="734" y="391" width="1" height="16" fill="#6e6e6e"/><rect x="732" y="379" width="5" height="12" fill="#5b100b"/><rect x="733" y="380" width="3" height="10" fill="#e05a45"/><rect x="740" y="375" width="1" height="15" fill="#6e6e6e"/><rect x="738" y="390" width="5" height="21" fill="#5b100b"/><rect x="739" y="391" width="3" height="19" fill="#e05a45"/><rect x="747" y="436" width="1" height="26" fill="#6e6e6e"/><rect x="745" y="412" width="5" height="24" fill="#5b100b"/><rect x="746" y="413" width="3" height="22" fill="#e05a45"/><rect x="752" y="434" width="5" height="2" fill="#5b100b"/><rect x="761" y="416" width="1" height="20" fill="#6e6e6e"/><rect x="759" y="436" width="5" height="13" fill="#5b100b"/><rect x="760" y="437" width="3" height="11" fill="#e05a45"/><rect x="766" y="449" width="5" height="70" fill="#5b100b"/><rect x="767" y="450" width="3" height="68" fill="#e05a45"/><rect x="775" y="519" width="1" height="33" fill="#6e6e6e"/><rect x="773" y="518" width="5" height="1" fill="#5b100b"/><rect x="781" y="477" width="1" height="18" fill="#6e6e6e"/><rect x="779" y="495" width="5" height="23" fill="#1b4d24"/><rect x="780" y="496" width="3" height="21" fill="#4caf50"/><rect x="786" y="481" width="5" height="14" fill="#1b4d24"/><rect x="787" y="482" width="3" height="12" fill="#4caf50"/><rect x="795" y="460" width="1" height="17" fill="#6e6e6e"/><rect x="795" y="502" width="1" height="1" fill="#6e6e6e"/><rect x="793" y="477" width="5" height="25" fill="#5b100b"/><rect x="794" y="478" width="3" height="23" fill="#e05a45"/><rect x="802" y="497" width="1" height="4" fill="#6e6e6e"/><rect x="802" y="503" width="1" height="10" fill="#6e6e6e"/><rect x="800" y="501" width="5" height="2" fill="#5b100b"/><rect x="809" y="495" width="1" height="10" fill="#6e6e6e"/><rect x="809" y="533" width="1" height="12" fill="#6e6e6e"/><rect x="807" y="505" width="5" height="28" fill="#5b100b"/><rect x="808" y="506" width="3" height="26" fill="#e05a45"/><rect x="815" y="471" width="1" height="29" fill="#6e6e6e"/><rect x="813" y="500" width="5" height="33" fill="#1b4d24"/><rect x="814" y="501" width="3" height="31" fill="#4caf50"/><rect x="822" y="494" width="1" height="6" fill="#6e6e6e"/><rect x="820" y="500" width="5" height="6" fill="#5b100b"/><rect x="821" y="501" width="3" height="4" fill="#e05a45"/><rect x="829" y="506" width="1" height="1" fill="#6e6e6e"/><rect x="827" y="507" width="5" height="1" fill="#1b4d24"/><rect x="834" y="506" width="5" height="19" fill="#5b100b"/><rect x="835" y="507" width="3" height="17" fill="#e05a45"/><rect x="843" y="520" width="1" height="4" fill="#6e6e6e"/><rect x="843" y="525" width="1" height="15" fill="#6e6e6e"/><rect x="841" y="524" width="5" height="1" fill="#5b100b"/><rect x="849" y="553" width="1" height="6" fill="#6e6e6e"/><rect x="847" y="525" width="5" height="28" fill="#5b100b"/><rect x="848" y="526" width="3" height="26" fill="#e05a45"/><rect x="856" y="551" width="1" height="3" fill="#6e6e6e"/><rect x="856" y="620" width="1" height="14" fill="#6e6e6e"/><rect x="854" y="554" width="5" height="66" fill="#5b100b"/><rect x="855" y="555" width="3" height="64" fill="#e05a45"/><rect x="861" y="581" width="5" height="39" fill="#1b4d24"/><rect x="862" y="582" width="3" height="37" fill="#4caf50"/><rect x="870" y="513" width="1" height="8" fill="#6e6e6e"/><rect x="868" y="521" width="5" height="59" fill="#1b4d24"/><rect x="869" y="522" width="3" height="57" fill="#4caf50"/><rect x="877" y="483" width="1" height="14" fill="#6e6e6e"/><rect x="875" y="497" width="5" height="24" fill="#1b4d24"/><rect x="876" y="498" width="3" height="22" fill="#4caf50"/><rect x="884" y="508" width="1" height="8" fill="#6e6e6e"/><rect x="882" y="494" width="5" height="14" fill="#5b100b"/><rect x="883" y="495" width="3" height="12" fill="#e05a45"/><rect x="888" y="473" width="5" height="35" fill="#1b4d24"/><rect x="889" y="474" width="3" height="33" fill="#4caf50"/><rect x="897" y="484" width="1" height="18" fill="#6e6e6e"/><rect x="895" y="473" width="5" height="11" fill="#5b100b"/><rect x="896" y="474" width="3" height="9" fill="#e05a45"/><rect x="904" y="522" width="1" height="7" fill="#6e6e6e"/><rect x="902" y="485" width="5" height="37" fill="#5b100b"/><rect x="903" y="486" width="3" height="35" fill="#e05a45"/><rect x="911" y="524" width="1" height="44" fill="#6e6e6e"/><rect x="909" y="514" width="5" height="10" fill="#1b4d24"/><rect x="910" y="515" width="3" height="8" fill="#4caf50"/><rect x="918" y="505" width="1" height="9" fill="#6e6e6e"/><rect x="918" y="559" width="1" height="22" fill="#6e6e6e"/><rect x="916" y="514" width="5" height="45" fill="#5b100b"/><rect x="917" y="515" width="3" height="43" fill="#e05a45"/><rect x="924" y="557" width="1" height="2" fill="#6e6e6e"/><rect x="922" y="559" width="5" height="29" fill="#5b100b"/><rect x="923" y="560" width="3" height="27" fill="#e05a45"/><rect x="929" y="588" width="5" height="5" fill="#5b100b"/><rect x="930" y="589" width="3" height="3" fill="#e05a45"/><rect x="936" y="593" width="5" height="31" fill="#5b100b"/><rect x="937" y="594" width="3" height="29" fill="#e05a45"/><rect x="945" y="565" width="1" height="5" fill="#6e6e6e"/><rect x="943" y="570" width="5" height="55" fill="#1b4d24"/><rect x="944" y="571" width="3" height="53" fill="#4caf50"/><rect x="952" y="567" width="1" height="7" fill="#6e6e6e"/><rect x="950" y="548" width="5" height="19" fill="#1b4d24"/><rect x="951" y="549" width="3" height="17" fill="#4caf50"/><rect x="958" y="480" width="1" height="50" fill="#6e6e6e"/><rect x="956" y="530" width="5" height="15" fill="#1b4d24"/><rect x="957" y="531" width="3" height="13" fill="#4caf50"/><rect x="965" y="508" width="1" height="19" fill="#6e6e6e"/><rect x="965" y="569" width="1" height="11" fill="#6e6e6e"/><rect x="963" y="527" width="5" height="42" fill="#5b100b"/><rect x="964" y="528" width="3" height="40" fill="#e05a45"/><rect x="972" y="520" width="1" height="10" fill="#6e6e6e"/><rect x="972" y="572" width="1" height="6" fill="#6e6e6e"/><rect x="970" y="530" width="5" height="42" fill="#1b4d24"/><rect x="971" y="531" width="3" height="40" fill="#4caf50"/><rect x="979" y="452" width="1" height="14" fill="#6e6e6e"/><rect x="977" y="466" width="5" height="62" fill="#1b4d24"/><rect x="978" y="467" width="3" height="60" fill="#4caf50"/><rect x="986" y="394" width="1" height="12" fill="#6e6e6e"/><rect x="986" y="463" width="1" height="3" fill="#6e6e6e"/><rect x="984" y="406" width="5" height="57" fill="#1b4d24"/><rect x="985" y="407" width="3" height="55" fill="#4caf50"/><rect x="991" y="405" width="5" height="72" fill="#5b100b"/><rect x="992" y="406" width="3" height="70" fill="#e05a45"/><rect x="999" y="469" width="1" height="12" fill="#6e6e6e"/><rect x="997" y="481" width="5" height="11" fill="#5b100b"/><rect x="998" y="482" width="3" height="9" fill="#e05a45"/><rect x="1006" y="473" width="1" height="15" fill="#6e6e6e"/><rect x="1006" y="506" width="1" height="8" fill="#6e6e6e"/><rect x="1004" y="488" width="5" height="18" fill="#5b100b"/><rect x="1005" y="489" width="3" height="16" fill="#e05a45"/><rect x="1013" y="480" width="1" height="26" fill="#6e6e6e"/><rect x="1011" y="506" width="5" height="19" fill="#5b100b"/><rect x="1012" y="507" width="3" height="17" fill="#e05a45"/><rect x="1020" y="528" width="1" height="8" fill="#6e6e6e"/><rect x="1018" y="514" width="5" height="14" fill="#1b4d24"/><rect x="1019" y="515" width="3" height="12" fill="#4caf50"/><rect x="1025" y="513" width="5" height="59" fill="#5b100b"/><rect x="1026" y="514" width="3" height="57" fill="#e05a45"/><rect x="1033" y="556" width="1" height="16" fill="#6e6e6e"/><rect x="1031" y="572" width="5" height="8" fill="#5b100b"/><rect x="1032" y="573" width="3" height="6" fill="#e05a45"/><rect x="1040" y="586" width="1" height="7" fill="#6e6e6e"/><rect x="1038" y="580" width="5" height="6" fill="#5b100b"/><rect x="1039" y="581" width="3" height="4" fill="#e05a45"/><rect x="1047" y="562" width="1" height="8" fill="#6e6e6e"/><rect x="1047" y="585" width="1" height="9" fill="#6e6e6e"/><rect x="1045" y="570" width="5" height="15" fill="#1b4d24"/><rect x="1046" y="571" width="3" height="13" fill="#4caf50"/><rect x="1054" y="553" width="1" height="11" fill="#6e6e6e"/><rect x="1054" y="572" width="1" height="11" fill="#6e6e6e"/><rect x="1052" y="564" width="5" height="8" fill="#1b4d24"/><rect x="1053" y="565" width="3" height="6" fill="#4caf50"/><rect x="1061" y="505" width="1" height="3" fill="#6e6e6e"/><rect x="1061" y="564" width="1" height="9" fill="#6e6e6e"/><rect x="1059" y="508" width="5" height="56" fill="#1b4d24"/><rect x="1060" y="509" width="3" height="54" fill="#4caf50"/><rect x="1067" y="501" width="1" height="5" fill="#6e6e6e"/><rect x="1065" y="506" width="5" height="54" fill="#5b100b"/><rect x="1066" y="507" width="3" height="52" fill="#e05a45"/><rect x="1074" y="507" width="1" height="14" fill="#6e6e6e"/><rect x="1074" y="559" width="1" height="6" fill="#6e6e6e"/><rect x="1072" y="521" width="5" height="38" fill="#1b4d24"/><rect x="1073" y="522" width="3" height="36" fill="#4caf50"/><rect x="1081" y="499" width="1" height="19" fill="#6e6e6e"/><rect x="1081" y="521" width="1" height="13" fill="#6e6e6e"/><rect x="1079" y="518" width="5" height="3" fill="#1b4d24"/><rect x="1080" y="519" width="3" height="1" fill="#4caf50"/><rect x="1086" y="517" width="5" height="32" fill="#5b100b"/><rect x="1087" y="518" width="3" height="30" fill="#e05a45"/><rect x="1093" y="532" width="5" height="19" fill="#1b4d24"/><rect x="1094" y="533" width="3" height="17" fill="#4caf50"/><rect x="1102" y="506" width="1" height="26" fill="#6e6e6e"/><rect x="1100" y="532" width="5" height="13" fill="#5b100b"/><rect x="1101" y="533" width="3" height="11" fill="#e05a45"/><rect x="1108" y="541" width="1" height="4" fill="#6e6e6e"/><rect x="1106" y="444" width="5" height="97" fill="#1b4d24"/><rect x="1107" y="445" width="3" height="95" fill="#4caf50"/><rect x="1115" y="427" width="1" height="20" fill="#6e6e6e"/><rect x="1113" y="447" width="5" height="5" fill="#5b100b"/><rect x="1114" y="448" width="3" height="3" fill="#e05a45"/><rect x="1122" y="379" width="1" height="10" fill="#6e6e6e"/><rect x="1120" y="389" width="5" height="63" fill="#1b4d24"/><rect x="1121" y="390" width="3" height="61" fill="#4caf50"/><rect x="1129" y="381" width="1" height="7" fill="#6e6e6e"/><rect x="1127" y="388" width="5" height="29" fill="#5b100b"/><rect x="1128" y="389" width="3" height="27" fill="#e05a45"/><rect x="1136" y="404" width="1" height="13" fill="#6e6e6e"/><rect x="1136" y="432" width="1" height="5" fill="#6e6e6e"/><rect x="1134" y="417" width="5" height="15" fill="#5b100b"/><rect x="1135" y="418" width="3" height="13" fill="#e05a45"/><rect x="1142" y="379" width="1" height="4" fill="#6e6e6e"/><rect x="1142" y="434" width="1" height="5" fill="#6e6e6e"/><rect x="1140" y="383" width="5" height="51" fill="#1b4d24"/><rect x="1141" y="384" width="3" height="49" fill="#4caf50"/><rect x="1147" y="383" width="5" height="114" fill="#5b100b"/><rect x="1148" y="384" width="3" height="112" fill="#e05a45"/><rect x="1156" y="471" width="1" height="6" fill="#6e6e6e"/><rect x="1156" y="491" width="1" height="8" fill="#6e6e6e"/><rect x="1154" y="477" width="5" height="14" fill="#1b4d24"/><rect x="1155" y="478" width="3" height="12" fill="#4caf50"/><rect x="1163" y="471" width="1" height="6" fill="#6e6e6e"/><rect x="1161" y="477" width="5" height="10" fill="#5b100b"/><rect x="1162" y="478" width="3" height="8" fill="#e05a45"/><rect x="1168" y="486" width="5" height="43" fill="#5b100b"/><rect x="1169" y="487" width="3" height="41" fill="#e05a45"/><rect x="1176" y="529" width="1" height="1" fill="#6e6e6e"/><rect x="1176" y="531" width="1" height="4" fill="#6e6e6e"/><rect x="1174" y="530" width="5" height="1" fill="#5b100b"/><rect x="1183" y="543" width="1" height="6" fill="#6e6e6e"/><rect x="1181" y="533" width="5" height="10" fill="#5b100b"/><rect x="1182" y="534" width="3" height="8" fill="#e05a45"/><rect x="1188" y="541" width="5" height="1" fill="#1b4d24"/><rect x="1197" y="534" width="1" height="8" fill="#6e6e6e"/><rect x="1197" y="553" width="1" height="10" fill="#6e6e6e"/><rect x="1195" y="542" width="5" height="11" fill="#5b100b"/><rect x="1196" y="543" width="3" height="9" fill="#e05a45"/><rect x="1204" y="452" width="1" height="3" fill="#6e6e6e"/><rect x="1202" y="455" width="5" height="97" fill="#1b4d24"/><rect x="1203" y="456" width="3" height="95" fill="#4caf50"/><rect x="1209" y="346" width="5" height="113" fill="#1b4d24"/><rect x="1210" y="347" width="3" height="111" fill="#4caf50"/><rect x="1217" y="335" width="1" height="12" fill="#6e6e6e"/><rect x="1217" y="367" width="1" height="14" fill="#6e6e6e"/><rect x="1215" y="347" width="5" height="20" fill="#5b100b"/><rect x="1216" y="348" width="3" height="18" fill="#e05a45"/><rect x="1224" y="353" width="1" height="3" fill="#6e6e6e"/><rect x="1224" y="365" width="1" height="50" fill="#6e6e6e"/><rect x="1222" y="356" width="5" height="9" fill="#1b4d24"/><rect x="1223" y="357" width="3" height="7" fill="#4caf50"/><rect x="1231" y="314" width="1" height="8" fill="#6e6e6e"/><rect x="1231" y="354" width="1" height="38" fill="#6e6e6e"/><rect x="1229" y="322" width="5" height="32" fill="#1b4d24"/><rect x="1230" y="323" width="3" height="30" fill="#4caf50"/><rect x="1238" y="298" width="1" height="7" fill="#6e6e6e"/><rect x="1238" y="325" width="1" height="20" fill="#6e6e6e"/><rect x="1236" y="305" width="5" height="20" fill="#1b4d24"/><rect x="1237" y="306" width="3" height="18" fill="#4caf50"/><rect x="1245" y="265" width="1" height="38" fill="#6e6e6e"/><rect x="1245" y="306" width="1" height="23" fill="#6e6e6e"/><rect x="1243" y="303" width="5" height="3" fill="#1b4d24"/><rect x="1244" y="304" width="3" height="1" fill="#4caf50"/><rect x="1251" y="301" width="1" height="9" fill="#6e6e6e"/><rect x="1249" y="296" width="5" height="5" fill="#1b4d24"/><rect x="1250" y="297" width="3" height="3" fill="#4caf50"/><rect x="1258" y="214" width="1" height="82" fill="#6e6e6e"/><rect x="1256" y="296" width="5" height="31" fill="#5b100b"/><rect x="1257" y="297" width="3" height="29" fill="#e05a45"/><rect x="1265" y="322" width="1" height="7" fill="#6e6e6e"/><rect x="1263" y="257" width="5" height="65" fill="#1b4d24"/><rect x="1264" y="258" width="3" height="63" fill="#4caf50"/><rect x="1270" y="257" width="5" height="102" fill="#5b100b"/><rect x="1271" y="258" width="3" height="100" fill="#e05a45"/><rect x="1279" y="284" width="1" height="22" fill="#6e6e6e"/><rect x="1277" y="306" width="5" height="47" fill="#1b4d24"/><rect x="1278" y="307" width="3" height="45" fill="#4caf50"/><rect x="1285" y="298" width="1" height="13" fill="#6e6e6e"/><rect x="1283" y="311" width="5" height="22" fill="#5b100b"/><rect x="1284" y="312" width="3" height="20" fill="#e05a45"/><rect x="1292" y="333" width="1" height="10" fill="#6e6e6e"/><rect x="1290" y="295" width="5" height="38" fill="#1b4d24"/><rect x="1291" y="296" width="3" height="36" fill="#4caf50"/><rect x="1299" y="290" width="1" height="3" fill="#6e6e6e"/><rect x="1299" y="386" width="1" height="7" fill="#6e6e6e"/><rect x="1297" y="293" width="5" height="93" fill="#5b100b"/><rect x="1298" y="294" width="3" height="91" fill="#e05a45"/><rect x="1306" y="394" width="1" height="6" fill="#6e6e6e"/><rect x="1304" y="367" width="5" height="27" fill="#1b4d24"/><rect x="1305" y="368" width="3" height="25" fill="#4caf50"/><rect x="1313" y="365" width="1" height="1" fill="#6e6e6e"/><rect x="1313" y="377" width="1" height="6" fill="#6e6e6e"/><rect x="1311" y="366" width="5" height="11" fill="#5b100b"/><rect x="1312" y="367" width="3" height="9" fill="#e05a45"/><rect x="1320" y="374" width="1" height="4" fill="#6e6e6e"/><rect x="1318" y="364" width="5" height="10" fill="#1b4d24"/><rect x="1319" y="365" width="3" height="8" fill="#4caf50"/><rect x="1326" y="356" width="1" height="9" fill="#6e6e6e"/><rect x="1324" y="365" width="5" height="37" fill="#5b100b"/><rect x="1325" y="366" width="3" height="35" fill="#e05a45"/><rect x="1333" y="386" width="1" height="18" fill="#6e6e6e"/><rect x="1331" y="404" width="5" height="3" fill="#5b100b"/><rect x="1332" y="405" width="3" height="1" fill="#e05a45"/><rect x="1340" y="444" width="1" height="2" fill="#6e6e6e"/><rect x="1338" y="408" width="5" height="36" fill="#5b100b"/><rect x="1339" y="409" width="3" height="34" fill="#e05a45"/><rect x="1347" y="418" width="1" height="26" fill="#6e6e6e"/><rect x="1345" y="444" width="5" height="4" fill="#5b100b"/><rect x="1346" y="445" width="3" height="2" fill="#e05a45"/><rect x="1354" y="448" width="1" height="29" fill="#6e6e6e"/><rect x="1352" y="420" width="5" height="28" fill="#1b4d24"/><rect x="1353" y="421" width="3" height="26" fill="#4caf50"/><rect x="1360" y="434" width="1" height="17" fill="#6e6e6e"/><rect x="1358" y="419" width="5" height="15" fill="#5b100b"/><rect x="1359" y="420" width="3" height="13" fill="#e05a45"/><rect x="1365" y="353" width="5" height="81" fill="#1b4d24"/><rect x="1366" y="354" width="3" height="79" fill="#4caf50"/><rect x="1374" y="348" width="1" height="5" fill="#6e6e6e"/><rect x="1372" y="353" width="5" height="10" fill="#5b100b"/><rect x="1373" y="354" width="3" height="8" fill="#e05a45"/><rect x="1381" y="364" width="1" height="10" fill="#6e6e6e"/><rect x="1379" y="341" width="5" height="23" fill="#1b4d24"/><rect x="1380" y="342" width="3" height="21" fill="#4caf50"/><rect x="1386" y="267" width="5" height="74" fill="#1b4d24"/><rect x="1387" y="268" width="3" height="72" fill="#4caf50"/><rect x="1394" y="262" width="1" height="9" fill="#6e6e6e"/><rect x="1392" y="271" width="5" height="44" fill="#5b100b"/><rect x="1393" y="272" width="3" height="42" fill="#e05a45"/></g><polyline points="2.7,692.5 11.4,691.6 20.6,688.6 32.0,687.5 45.8,688.6 59.5,691.6 73.2,693.9 85.8,694.3 93.8,692.0 100.7,693.9 107.5,690.9 114.4,693.2 121.3,689.1 130.4,690.9 141.8,693.2 151.0,692.0 160.1,693.2 169.3,690.4 180.7,690.4 193.3,689.1 205.9,691.6 221.9,694.3 235.6,689.7 247.1,692.0 256.2,692.0 265.4,689.3 276.8,688.6 288.3,692.5 297.4,694.3 304.3,684.0 311.1,676.5 324.9,673.0 338.6,671.0 350.0,676.0 359.2,680.1 372.9,682.4 379.3,686.3 386.6,685.2 393.5,685.6 399.9,687.5 407.2,685.2 414.1,685.6 420.9,687.0 427.8,687.5 434.2,686.3 441.5,689.1 448.4,687.0 455.2,686.8 462.1,687.9 469.0,687.5 474.7,685.6 482.2,688.6 488.4,687.9 495.3,688.6 502.1,687.9 509.0,689.3 515.9,689.7 522.7,686.3 535.3,684.0 544.5,685.2 551.3,685.2 555.9,686.3 562.8,688.6 569.6,690.2 576.5,686.8 583.4,685.6 590.2,687.9 597.1,689.7 603.9,689.3 610.8,690.9 617.7,689.3 624.5,689.7 631.4,689.3 638.3,690.2 645.1,687.5 652.0,690.2 658.9,691.6 665.7,687.5 672.6,688.6 679.4,690.2 686.3,691.6 693.2,693.2 700.0,692.5 706.9,693.9 712.6,693.9 719.4,697.1 727.5,698.2 734.3,698.9 741.2,698.9 746.9,698.2 754.4,701.2 761.3,701.2 768.2,698.9 775.5,699.4 781.2,699.4 788.1,701.2 794.9,700.7 801.8,702.3 808.7,701.2 815.5,699.4 822.4,701.6 829.3,704.2 837.3,705.8 844.1,706.9 849.9,706.4 856.7,702.6 863.6,702.3 870.4,700.3 877.3,700.5 884.2,701.6 891.0,701.6 897.9,702.1 904.8,701.2 910.5,700.0 917.8,697.1 924.2,697.7 931.1,700.5 937.9,701.2 944.8,699.6 951.7,700.5 958.5,697.7 965.4,695.5 972.2,694.3 979.1,691.6 986.0,689.7 992.8,688.1 999.7,690.2 1006.6,690.4 1013.4,690.9 1020.3,692.7 1027.2,691.6 1034.0,693.9 1040.9,695.9 1050.0,696.6 1056.9,695.5 1063.7,694.3 1072.9,693.2 1084.3,694.3 1093.5,696.6 1101.5,696.6 1108.3,692.5 1115.2,693.9 1122.1,691.6 1128.9,692.5 1135.8,693.2 1141.5,692.5 1148.4,687.0 1155.2,688.6 1162.1,690.9 1169.0,691.6 1175.8,694.3 1182.7,696.1 1189.6,698.9 1196.4,700.5 1203.3,695.5 1210.1,690.2 1217.0,689.7 1223.9,688.6 1230.7,686.8 1237.6,686.8 1244.5,686.1 1250.9,689.1 1257.0,684.0 1265.1,682.4 1271.9,679.4 1278.8,677.8 1285.6,679.4 1292.5,680.6 1299.4,676.7 1306.2,678.3 1313.1,681.7 1320.0,684.7 1326.8,685.6 1333.7,687.9 1340.6,689.1 1347.4,690.2 1354.3,689.3 1361.1,690.4 1366.9,687.9 1373.7,690.4 1380.6,691.6 1387.5,689.7 1394.3,689.3" fill="none" stroke="#b22833" stroke-width="1" stroke-linejoin="round"/><polyline points="2.7,748.1 11.4,749.9 18.3,758.4 25.2,766.4 30.9,769.8 36.6,774.4 45.8,785.8 52.6,781.3 59.5,776.2 68.6,772.6 80.1,769.8 91.5,762.5 100.7,758.8 107.5,751.5 114.4,745.8 121.3,735.5 128.1,734.4 139.6,735.5 148.7,733.2 157.9,736.6 169.3,744.2 183.0,753.8 194.5,764.8 203.6,766.4 216.2,765.2 221.9,767.1 229.9,771.6 235.6,767.5 247.1,764.1 258.5,761.8 264.2,759.1 270.0,752.7 276.8,756.1 284.8,760.7 290.6,761.8 297.4,753.8 303.8,743.5 310.7,797.3 317.5,799.1 324.9,790.4 331.7,782.4 338.6,769.4 345.5,763.4 350.0,764.1 359.2,761.8 366.0,763.4 372.9,761.1 379.7,758.8 386.6,756.1 393.5,757.9 400.3,762.5 406.7,757.2 412.9,761.8 419.8,764.1 426.6,771.6 434.2,776.7 441.1,775.1 447.9,756.1 454.8,766.4 461.6,771.0 467.8,772.6 474.7,764.1 481.5,754.9 488.4,766.4 495.3,765.2 502.1,758.8 509.0,765.2 515.9,774.4 522.7,740.1 528.9,717.7 535.8,715.6 543.3,720.6 550.2,733.9 557.0,736.6 563.2,740.1 569.6,739.6 577.0,735.5 583.8,730.0 590.7,732.5 597.5,734.6 603.9,732.5 610.8,734.4 617.7,744.2 624.5,751.5 630.9,759.5 638.3,766.4 645.1,776.2 652.4,780.1 659.3,777.8 665.7,770.3 672.6,759.5 679.4,759.1 686.3,761.8 693.2,760.7 700.0,756.1 705.7,753.8 713.7,757.9 720.6,759.5 727.5,761.1 734.3,764.1 740.7,765.7 747.6,773.2 754.4,771.0 761.3,770.3 768.2,781.3 775.0,783.5 781.2,773.9 788.1,770.5 794.9,769.8 801.8,770.3 808.7,771.4 815.5,766.4 822.4,765.7 829.3,765.2 836.1,765.9 843.0,767.5 849.9,771.0 856.7,781.7 862.9,779.4 870.4,765.2 877.3,751.5 884.2,752.0 890.3,742.8 896.8,741.2 904.8,752.7 911.6,760.2 918.5,766.4 924.2,774.8 931.1,776.7 937.9,779.0 944.8,768.7 951.7,758.8 958.1,746.9 964.9,756.5 971.8,753.3 978.7,735.0 986.0,724.1 992.8,733.7 999.2,744.0 1006.6,748.1 1013.4,751.1 1020.3,753.8 1027.2,760.7 1034.0,765.2 1040.9,767.5 1047.7,764.1 1050.0,762.5 1054.6,760.7 1061.0,752.7 1067.8,756.5 1074.0,754.9 1080.9,751.5 1087.7,758.8 1094.6,758.4 1102.2,756.5 1108.3,740.1 1115.2,730.9 1122.1,721.8 1128.9,724.5 1135.8,732.5 1141.5,731.4 1148.4,745.1 1155.2,749.7 1162.1,750.4 1169.0,756.1 1175.8,761.8 1182.7,765.2 1189.6,765.7 1196.4,767.1 1203.3,752.7 1210.6,732.5 1217.0,731.6 1223.9,736.6 1230.7,733.2 1237.6,732.1 1244.5,732.5 1250.9,735.5 1257.7,736.0 1264.6,737.3 1271.9,743.5 1278.8,743.5 1285.6,744.6 1292.5,744.6 1299.4,749.2 1306.2,753.8 1313.1,754.3 1320.0,754.3 1326.8,760.7 1333.7,768.7 1340.1,779.4 1347.4,777.8 1354.3,774.4 1361.1,772.1 1366.9,760.7 1373.7,753.8 1381.3,751.1 1388.1,737.3 1394.3,737.8" fill="none" stroke="#2962ff" stroke-width="1" stroke-linejoin="round"/><g shape-rendering="crispEdges"><rect x="1466" y="4" width="1" height="664" fill="#555555"/><rect x="1466" y="669" width="1" height="41" fill="#555555"/><rect x="1466" y="711" width="1" height="122" fill="#555555"/><rect x="3" y="805" width="1523" height="1" fill="#555555"/></g><text x="1474" y="295" font-size="12" fill="#555" text-anchor="start" font-weight="normal" >0.012</text><text x="1474" y="600" font-size="12" fill="#555" text-anchor="start" font-weight="normal" >0.011</text><text x="1474" y="680" font-size="12" fill="#555" text-anchor="start" font-weight="normal" >0.000</text><text x="1474" y="727.5" font-size="12" fill="#555" text-anchor="start" font-weight="normal" >200.00</text><text x="1474" y="758.5" font-size="12" fill="#555" text-anchor="start" font-weight="normal" >0.00</text><text x="1469" y="790" font-size="12" fill="#555" text-anchor="start" font-weight="normal" >−200.00</text><path d="M1466,29 h41 q2,0 2,2 v13 q0,2 -2,2 h-41 z" fill="#000"/><text x="1474" y="42" font-size="12" fill="#fff" text-anchor="start" font-weight="bold" >0.013</text><path d="M1466,102 h41 q2,0 2,2 v13 q0,2 -2,2 h-41 z" fill="#000"/><text x="1474" y="115" font-size="12" fill="#fff" text-anchor="start" font-weight="bold" >0.013</text><path d="M1466,198 h41 q2,0 2,2 v13 q0,2 -2,2 h-41 z" fill="#000"/><text x="1474" y="211" font-size="12" fill="#fff" text-anchor="start" font-weight="bold" >0.012</text><path d="M1466,578 h41 q2,0 2,2 v13 q0,2 -2,2 h-41 z" fill="#000"/><text x="1474" y="591" font-size="12" fill="#fff" text-anchor="start" font-weight="bold" >0.011</text><path d="M1466,620 h41 q2,0 2,2 v13 q0,2 -2,2 h-41 z" fill="#000"/><text x="1474" y="633" font-size="12" fill="#fff" text-anchor="start" font-weight="bold" >0.011</text><text x="14.0" y="823" font-size="12" fill="#555" text-anchor="middle" font-weight="normal" >Aug</text><text x="168.5" y="823" font-size="12" fill="#555" text-anchor="middle" font-weight="normal" >Sep</text><text x="311.5" y="823" font-size="12" fill="#555" text-anchor="middle" font-weight="normal" >Oct</text><text x="461.5" y="823" font-size="12" fill="#555" text-anchor="middle" font-weight="normal" >Nov</text><text x="611.5" y="823" font-size="12" fill="#555" text-anchor="middle" font-weight="normal" >Dec</text><text x="754.5" y="823" font-size="12" fill="#555" text-anchor="middle" font-weight="bold" >2024</text><text x="911.5" y="823" font-size="12" fill="#555" text-anchor="middle" font-weight="normal" >Feb</text><text x="1054.5" y="823" font-size="12" fill="#555" text-anchor="middle" font-weight="normal" >Mar</text><text x="1197.5" y="823" font-size="12" fill="#555" text-anchor="middle" font-weight="normal" >Apr</text><text x="1347.5" y="823" font-size="12" fill="#555" text-anchor="middle" font-weight="normal" >May</text><text x="1435.5" y="823" font-size="12" fill="#555" text-anchor="middle" font-weight="normal" >20</text><rect x="3" y="4" width="530" height="29" fill="#fff" fill-opacity="0"/><rect x="7" y="33" width="144" height="31" fill="#fff" fill-opacity="0.55"/><rect x="7" y="64" width="522" height="24" fill="#fff" fill-opacity="0.55"/><circle cx="21" cy="20" r="9" fill="#e0e3eb"/><text x="21" y="24" font-size="12" fill="#fff" text-anchor="middle" font-weight="bold" style="font-family:Liberation Serif,serif">S</text><text x="34.2" y="25.8" font-size="15.2" fill="#4a4a4a" font-weight="normal" textLength="162.8" lengthAdjust="spacingAndGlyphs">SILVER/GOLD · 1D · TVC</text><circle cx="222" cy="20" r="9" fill="#eeeff2"/><rect x="217.2" y="18" width="9.7" height="4" rx="2" fill="#8f929d"/><text x="246.7" y="25" font-size="12.3" fill="#742626" font-weight="normal" textLength="41.3" lengthAdjust="spacingAndGlyphs"><tspan fill="#5d5d5d">O</tspan>0.012</text><text x="294.4" y="25" font-size="12.3" fill="#742626" font-weight="normal" textLength="41.4" lengthAdjust="spacingAndGlyphs"><tspan fill="#5d5d5d">H</tspan>0.012</text><text x="341.6" y="25" font-size="12.3" fill="#742626" font-weight="normal" textLength="39.7" lengthAdjust="spacingAndGlyphs"><tspan fill="#5d5d5d">L</tspan>0.012</text><text x="387.8" y="25" font-size="12.3" fill="#742626" font-weight="normal" textLength="40.2" lengthAdjust="spacingAndGlyphs"><tspan fill="#5d5d5d">C</tspan>0.012</text><text x="435.1" y="25" font-size="12.3" fill="#742626" font-weight="normal" textLength="37.9" lengthAdjust="spacingAndGlyphs">−0.000</text><text x="477.8" y="25" font-size="12.3" fill="#742626" font-weight="normal" textLength="48.6" lengthAdjust="spacingAndGlyphs">(−1.27%)</text><rect x="11.5" y="36.5" width="46" height="23" rx="4" fill="#fff" stroke="#f23645"/><text x="19" y="53" font-size="13" fill="#f23645" font-weight="normal" textLength="26.0" lengthAdjust="spacingAndGlyphs">0.01</text><text x="45.5" y="49.5" font-size="11" fill="#f23645" text-anchor="start" font-weight="normal" >2</text><text x="66" y="52" font-size="12.3" fill="#131722" font-weight="normal" textLength="27.5" lengthAdjust="spacingAndGlyphs">0.000</text><rect x="101.5" y="36.5" width="46" height="23" rx="4" fill="#fff" stroke="#2962ff"/><text x="109.5" y="53" font-size="13" fill="#2962ff" font-weight="normal" textLength="26.0" lengthAdjust="spacingAndGlyphs">0.01</text><text x="136" y="49.5" font-size="11" fill="#2962ff" text-anchor="start" font-weight="normal" >2</text><text x="12" y="80.8" font-size="12.2" fill="#5d5d5d" font-weight="normal" textLength="383.5" lengthAdjust="spacingAndGlyphs">MA Ribbon SMA close 20 SMA close 50 SMA close 100 SMA close 200</text><text x="403.5" y="80.8" font-size="12.2" fill="#f23645" font-weight="normal" textLength="31.5" lengthAdjust="spacingAndGlyphs">0.012</text><text x="441.5" y="80.8" font-size="12.2" fill="#2962ff" font-weight="normal" textLength="31.5" lengthAdjust="spacingAndGlyphs">0.012</text><text x="480.5" y="80.8" font-size="11" fill="#6a6a6a" text-anchor="start" font-weight="normal" >Ø</text><text x="493.5" y="80.8" font-size="12.2" fill="#131722" font-weight="normal" textLength="31.5" lengthAdjust="spacingAndGlyphs">0.012</text><rect x="12.5" y="90.5" width="28" height="20" rx="2.5" fill="#fff" fill-opacity="0.88" stroke="#d1d4dc"/><path d="M22.4,102.6 L26.5,98.4 L30.6,102.6" fill="none" stroke="#131722" stroke-width="1.3"/><rect x="9" y="677" width="115" height="18" fill="#fff" fill-opacity="0.6"/><text x="12.3" y="689.6" font-size="11.8" fill="#5d5d5d" font-weight="normal" textLength="67.2" lengthAdjust="spacingAndGlyphs">ATR 14 RMA</text><text x="87.6" y="689.6" font-size="11.8" fill="#b22833" font-weight="normal" textLength="32.4" lengthAdjust="spacingAndGlyphs">0.000</text><rect x="9" y="719" width="155" height="19" fill="#fff" fill-opacity="0.6"/><text x="12.3" y="732" font-size="11.8" fill="#5d5d5d" font-weight="normal" textLength="101.2" lengthAdjust="spacingAndGlyphs">CCI 20 hlc3 SMA 5</text><text x="123" y="732" font-size="11.8" fill="#2962ff" font-weight="normal" textLength="37.5" lengthAdjust="spacingAndGlyphs">104.92</text><g fill="#131722" stroke="#fff" stroke-width="3" paint-order="stroke" stroke-linejoin="round"><path d="M15.1,776.2 H26.8 V790.8 H21 V781.5 H15.1 Z"/><circle cx="32" cy="779" r="2.8"/><path d="M38.3,776.2 H44.7 L39,790.8 H32.2 Z"/></g><defs><filter id="wb" x="-5%" y="-5%" width="110%" height="110%"><feGaussianBlur stdDeviation="1.1"/></filter><mask id="wmk" maskUnits="userSpaceOnUse" x="1200" y="700" width="330" height="135"><rect x="1200" y="700" width="330" height="135" fill="#fff"/><g transform=""><path d="M1308.4,744.1L1307.5,753.9M1294.7,758.8L1310.4,758.8M1285.9,795.1L1306.5,771.6M1313.3,749.0L1354.5,749.0M1354.5,748.0L1346.7,794.1M1288.8,795.1L1347.6,795.1M1317.3,760.8L1349.6,760.8M1318.2,760.8L1313.3,784.3M1302.5,778.4L1352.5,778.4M1332.0,764.7L1331.0,772.5M1329.0,782.4L1328.0,790.2M1360.4,747.1L1398.6,747.1M1365.3,748.0L1362.4,764.7M1357.5,764.7L1395.7,764.7M1398.6,747.1L1391.8,792.2M1367.3,795.1L1391.8,795.1M1353.5,780.4L1386.9,780.4M1413.3,745.1L1403.5,792.2M1413.3,747.1L1428.0,747.1M1428.0,747.1L1419.2,786.3M1408.4,786.3L1421.2,786.3M1405.5,792.2L1401.6,797.1M1418.2,788.2L1423.1,796.1M1428.0,758.8L1459.4,758.8M1459.4,758.8L1450.6,794.1M1450.6,794.1L1439.8,795.1M1444.7,742.2L1434.9,792.2M1437.8,764.7L1424.1,788.2M1481.0,743.1L1471.2,758.8M1471.2,758.8L1484.9,756.9M1486.9,752.9L1471.2,776.5M1471.2,776.5L1488.8,772.5M1468.2,794.1L1490.8,788.2M1494.7,747.1L1520.2,747.1M1520.2,747.1L1500.6,766.7M1500.6,752.9L1518.2,766.7M1492.7,768.6L1520.2,768.6M1506.5,768.6L1503.5,792.2M1475.1,794.1L1518.2,794.1" stroke="#000" stroke-width="6" stroke-linecap="square" fill="none"/></g></mask></defs><g mask="url(#wmk)"><g transform="translate(-2,2.5)"><g transform=""><path d="M1308.4,744.1L1307.5,753.9M1294.7,758.8L1310.4,758.8M1285.9,795.1L1306.5,771.6M1313.3,749.0L1354.5,749.0M1354.5,748.0L1346.7,794.1M1288.8,795.1L1347.6,795.1M1317.3,760.8L1349.6,760.8M1318.2,760.8L1313.3,784.3M1302.5,778.4L1352.5,778.4M1332.0,764.7L1331.0,772.5M1329.0,782.4L1328.0,790.2M1360.4,747.1L1398.6,747.1M1365.3,748.0L1362.4,764.7M1357.5,764.7L1395.7,764.7M1398.6,747.1L1391.8,792.2M1367.3,795.1L1391.8,795.1M1353.5,780.4L1386.9,780.4M1413.3,745.1L1403.5,792.2M1413.3,747.1L1428.0,747.1M1428.0,747.1L1419.2,786.3M1408.4,786.3L1421.2,786.3M1405.5,792.2L1401.6,797.1M1418.2,788.2L1423.1,796.1M1428.0,758.8L1459.4,758.8M1459.4,758.8L1450.6,794.1M1450.6,794.1L1439.8,795.1M1444.7,742.2L1434.9,792.2M1437.8,764.7L1424.1,788.2M1481.0,743.1L1471.2,758.8M1471.2,758.8L1484.9,756.9M1486.9,752.9L1471.2,776.5M1471.2,776.5L1488.8,772.5M1468.2,794.1L1490.8,788.2M1494.7,747.1L1520.2,747.1M1520.2,747.1L1500.6,766.7M1500.6,752.9L1518.2,766.7M1492.7,768.6L1520.2,768.6M1506.5,768.6L1503.5,792.2M1475.1,794.1L1518.2,794.1" stroke="#555555" stroke-opacity="0.65" stroke-width="6" stroke-linecap="square" fill="none" filter="url(#wb)"/></g></g></g><g transform=""><path d="M1308.4,744.1L1307.5,753.9M1294.7,758.8L1310.4,758.8M1285.9,795.1L1306.5,771.6M1313.3,749.0L1354.5,749.0M1354.5,748.0L1346.7,794.1M1288.8,795.1L1347.6,795.1M1317.3,760.8L1349.6,760.8M1318.2,760.8L1313.3,784.3M1302.5,778.4L1352.5,778.4M1332.0,764.7L1331.0,772.5M1329.0,782.4L1328.0,790.2M1360.4,747.1L1398.6,747.1M1365.3,748.0L1362.4,764.7M1357.5,764.7L1395.7,764.7M1398.6,747.1L1391.8,792.2M1367.3,795.1L1391.8,795.1M1353.5,780.4L1386.9,780.4M1413.3,745.1L1403.5,792.2M1413.3,747.1L1428.0,747.1M1428.0,747.1L1419.2,786.3M1408.4,786.3L1421.2,786.3M1405.5,792.2L1401.6,797.1M1418.2,788.2L1423.1,796.1M1428.0,758.8L1459.4,758.8M1459.4,758.8L1450.6,794.1M1450.6,794.1L1439.8,795.1M1444.7,742.2L1434.9,792.2M1437.8,764.7L1424.1,788.2M1481.0,743.1L1471.2,758.8M1471.2,758.8L1484.9,756.9M1486.9,752.9L1471.2,776.5M1471.2,776.5L1488.8,772.5M1468.2,794.1L1490.8,788.2M1494.7,747.1L1520.2,747.1M1520.2,747.1L1500.6,766.7M1500.6,752.9L1518.2,766.7M1492.7,768.6L1520.2,768.6M1506.5,768.6L1503.5,792.2M1475.1,794.1L1518.2,794.1" stroke="#ffffff" stroke-opacity="0.75" stroke-width="6" stroke-linecap="square" fill="none"/></g><text transform="translate(1296.8,831) scale(1.17,1)" x="0" y="0" font-size="31" font-weight="bold" font-style="italic" fill="#6d80bd" fill-opacity="0.75">z</text><text transform="translate(1295,829.5) scale(1.17,1)" x="0" y="0" font-size="31" font-weight="bold" font-style="italic" fill="#8cc8fa">z</text><text transform="translate(1323.3,831) scale(1.17,1)" x="0" y="0" font-size="31" font-weight="bold" font-style="italic" fill="#6d80bd" fill-opacity="0.75">z</text><text transform="translate(1321.5,829.5) scale(1.17,1)" x="0" y="0" font-size="31" font-weight="bold" font-style="italic" fill="#8cc8fa">z</text><text transform="translate(1350.8,831) scale(1.17,1)" x="0" y="0" font-size="31" font-weight="bold" font-style="italic" fill="#6d80bd" fill-opacity="0.75">r</text><text transform="translate(1349,829.5) scale(1.17,1)" x="0" y="0" font-size="31" font-weight="bold" font-style="italic" fill="#8cc8fa">r</text><text transform="translate(1374.8,831) scale(1.17,1)" x="0" y="0" font-size="31" font-weight="bold" font-style="italic" fill="#6d80bd" fill-opacity="0.75">t</text><text transform="translate(1373,829.5) scale(1.17,1)" x="0" y="0" font-size="31" font-weight="bold" font-style="italic" fill="#8cc8fa">t</text><text transform="translate(1395.8,831) scale(1.17,1)" x="0" y="0" font-size="31" font-weight="bold" font-style="italic" fill="#6d80bd" fill-opacity="0.75">0</text><text transform="translate(1394,829.5) scale(1.17,1)" x="0" y="0" font-size="31" font-weight="bold" font-style="italic" fill="#8cc8fa">0</text><text transform="translate(1429.8,831) scale(1.17,1)" x="0" y="0" font-size="31" font-weight="bold" font-style="italic" fill="#6d80bd" fill-opacity="0.75">1</text><text transform="translate(1428,829.5) scale(1.17,1)" x="0" y="0" font-size="31" font-weight="bold" font-style="italic" fill="#8cc8fa">1</text><text transform="translate(1452.8,831) scale(1.17,1)" x="0" y="0" font-size="31" font-weight="bold" font-style="italic" fill="#6d80bd" fill-opacity="0.75">.</text><text transform="translate(1451,829.5) scale(1.17,1)" x="0" y="0" font-size="31" font-weight="bold" font-style="italic" fill="#8cc8fa">.</text><text transform="translate(1470.8,831) scale(1.17,1)" x="0" y="0" font-size="31" font-weight="bold" font-style="italic" fill="#6d80bd" fill-opacity="0.75">c</text><text transform="translate(1469,829.5) scale(1.17,1)" x="0" y="0" font-size="31" font-weight="bold" font-style="italic" fill="#8cc8fa">c</text><text transform="translate(1498.8,831) scale(1.17,1)" x="0" y="0" font-size="31" font-weight="bold" font-style="italic" fill="#6d80bd" fill-opacity="0.75">n</text><text transform="translate(1497,829.5) scale(1.17,1)" x="0" y="0" font-size="31" font-weight="bold" font-style="italic" fill="#8cc8fa">n</text><text x="1347.5" y="823" font-size="12" fill="#4a4a4a" fill-opacity="0.75" text-anchor="middle">May</text><text x="1435.5" y="823" font-size="12" fill="#4a4a4a" fill-opacity="0.75" text-anchor="middle">20</text><path d="M1489.4,819.4 L1492.6,813.2 H1500.5 L1503.7,819.4 L1500.5,825.5 H1492.6 Z" fill="#fff" fill-opacity="0.6" stroke="#131722" stroke-width="1.1"/><circle cx="1496.4" cy="819.5" r="2.1" fill="none" stroke="#131722" stroke-width="1.1"/></svg></body></html>
